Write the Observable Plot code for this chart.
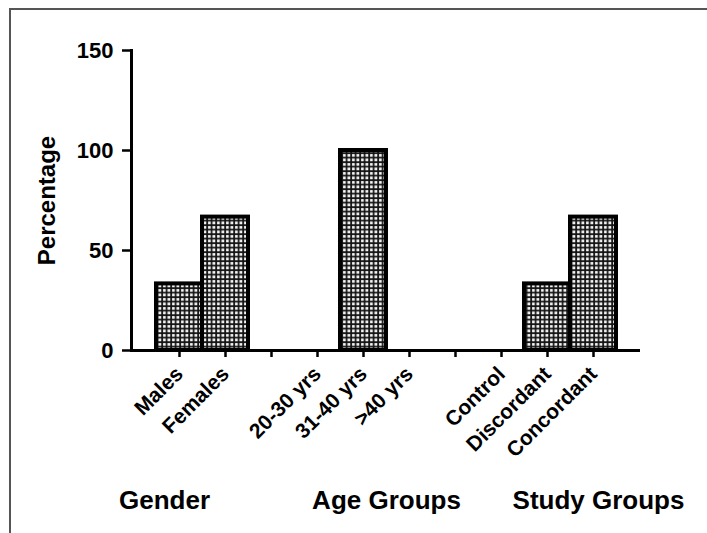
<!DOCTYPE html>
<html>
<head>
<meta charset="utf-8">
<script src="https://cdn.jsdelivr.net/npm/d3@7"></script>
<script src="https://cdn.jsdelivr.net/npm/@observablehq/plot@0.6"></script>
<style>
  html, body { margin: 0; padding: 0; background: white; }
  #wrap { position: relative; width: 707px; height: 533px; overflow: hidden; }
  #border { position: absolute; left: 9px; top: 8px; width: 700px; height: 530px;
            border-top: 2px solid #555; border-left: 2px solid #555; pointer-events: none; }
</style>
</head>
<body>
<div id="wrap"><div id="border"></div></div>
<script>
// Data
const categories = ["Males", "Females", "20-30 yrs", "31-40 yrs", ">40 yrs", "Control", "Discordant", "Concordant"];
const percentages = [33.3, 66.7, 0, 100, 0, 0, 33.3, 66.7];
// axis slots (blank spacer slots separate the three groups)
const axisSlots = ["Males", "Females", " ", "20-30 yrs", "31-40 yrs", ">40 yrs", "  ", "Control", "Discordant", "Concordant"];
const yTicks = [0, 50, 100, 150];
const groupLabels = ["Gender", "Age Groups", "Study Groups"];
const yLabel = "Percentage";

const rows = categories.map((c, i) => ({category: c, value: percentages[i]}));
const font = "'Liberation Sans', Arial, Helvetica, sans-serif";

const chart = Plot.plot({
  width: 707,
  height: 533,
  marginLeft: 131,
  marginRight: 67,
  marginTop: 50,
  marginBottom: 183,
  style: {fontFamily: font, fontWeight: "bold", color: "black", background: "white", overflow: "visible"},
  x: {domain: axisSlots, paddingInner: 0, paddingOuter: 0.5, align: 0.5, label: null},
  y: {domain: [0, 150], label: null},
  marks: [
    Plot.barY(rows.filter(d => d.value > 0), {
      x: "category", y: "value", fill: "url(#dither)", stroke: "black", strokeWidth: 4, inset: 0
    }),
    Plot.ruleY([0], {stroke: "black", strokeWidth: 3}),
    Plot.frame({anchor: "left", stroke: "black", strokeWidth: 3}),
    Plot.axisY({ticks: yTicks, tickSize: 9, tickPadding: 9, fontSize: 22, fontWeight: "bold", strokeWidth: 2.5, label: null}),
    Plot.axisX({tickRotate: -45, tickSize: 7, tickPadding: 13, fontSize: 21, fontWeight: "bold", strokeWidth: 2.5, label: null}),
    Plot.text([yLabel], {frameAnchor: "left", textAnchor: "middle", rotate: -90, dx: -84, fontSize: 24, fontWeight: "bold", fill: "black"}),
    Plot.text([groupLabels[0]], {x: () => "Males", frameAnchor: "bottom", dx: -15, dy: 158, fontSize: 26, fontWeight: "bold", fill: "black", letterSpacing: "1.2px"}),
    Plot.text([groupLabels[1]], {x: () => "31-40 yrs", frameAnchor: "bottom", dx: 23, dy: 158, fontSize: 26, fontWeight: "bold", fill: "black", letterSpacing: "1.2px"}),
    Plot.text([groupLabels[2]], {x: () => "Concordant", frameAnchor: "bottom", dx: 5, dy: 158, fontSize: 26, fontWeight: "bold", fill: "black", letterSpacing: "1.2px"})
  ]
});

// dithered fill pattern
const defs = d3.select(chart).append("defs");
const pat = defs.append("pattern")
  .attr("id", "dither").attr("patternUnits", "userSpaceOnUse")
  .attr("width", 4.5).attr("height", 4.5);
pat.append("rect").attr("width", 4.5).attr("height", 4.5).attr("fill", "#111");
pat.append("rect").attr("x", 1).attr("y", 1).attr("width", 2.8).attr("height", 2.8).attr("fill", "#f4f4f4");

document.getElementById("wrap").prepend(chart);
</script>
</body>
</html>
